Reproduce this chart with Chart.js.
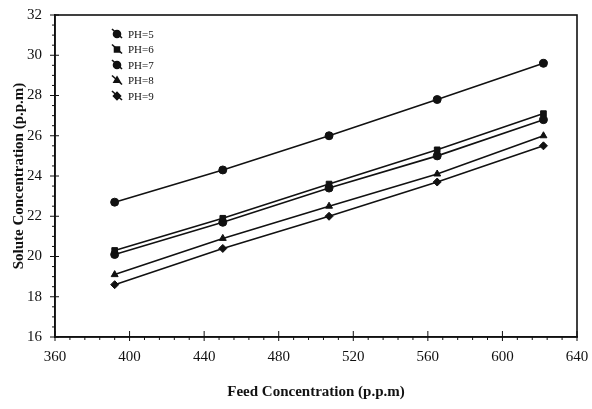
<!DOCTYPE html>
<html>
<head>
<meta charset="utf-8">
<script src="https://cdn.jsdelivr.net/npm/chart.js@4.4.1/dist/chart.umd.min.js"></script>
<style>
  html, body { margin: 0; padding: 0; background: #fff; }
  #wrap { width: 592px; height: 409px; }
</style>
</head>
<body>
<div id="wrap"><canvas id="chart" width="592" height="409"></canvas></div>
<script>
// feed concentration (p.p.m) on the x axis
var feed = [392, 450, 507, 565, 622];
// solute concentration (p.p.m) for each pH
var ph5 = [22.7, 24.3, 26.0, 27.8, 29.6];
var ph6 = [20.3, 21.9, 23.6, 25.3, 27.1];
var ph7 = [20.1, 21.7, 23.4, 25.0, 26.8];
var ph8 = [19.1, 20.9, 22.5, 24.1, 26.0];
var ph9 = [18.6, 20.4, 22.0, 23.7, 25.5];
var seriesNames = ['PH=5', 'PH=6', 'PH=7', 'PH=8', 'PH=9'];
var xTicks = [360, 400, 440, 480, 520, 560, 600, 640];
var yTicks = [16, 18, 20, 22, 24, 26, 28, 30, 32];

var serif = '"Liberation Serif", "DejaVu Serif", serif';
var styles = ['circle', 'rect', 'circle', 'triangle', 'rectRot'];

function pts(ys) {
    return feed.map(function(x, i) { return { x: x, y: ys[i] }; });
}

var allSeries = [ph5, ph6, ph7, ph8, ph9];
var datasets = allSeries.map(function(ys, i) {
    return {
        label: seriesNames[i],
        data: pts(ys),
        showLine: true,
        borderColor: '#111',
        backgroundColor: '#111',
        borderWidth: 1.6,
        pointStyle: styles[i],
        pointRadius: 4,
        pointBorderWidth: 1,
        tension: 0
    };
});

// frame, tick marks and legend drawn on top of the chart area
var framePlugin = {
    id: 'frame',
    afterDraw: function(chart) {
        var ctx = chart.ctx;
        var a = chart.chartArea;
        var xs = chart.scales.x, ys = chart.scales.y;
        ctx.save();
        ctx.strokeStyle = '#111';
        ctx.lineWidth = 1.6;
        ctx.strokeRect(a.left, a.top, a.right - a.left, a.bottom - a.top);

        ctx.lineWidth = 1;
        // x ticks: majors every 40, minors every 8
        for (var v = 360; v <= 640; v += 8) {
            var px = xs.getPixelForValue(v);
            var major = (v - 360) % 40 === 0;
            ctx.beginPath();
            if (major) { ctx.moveTo(px, a.bottom - 6); ctx.lineTo(px, a.bottom + 4); }
            else { ctx.moveTo(px, a.bottom); ctx.lineTo(px, a.bottom + 3); }
            ctx.stroke();
        }
        // y ticks: majors every 2, minors every 0.5
        for (var w = 16; w <= 32; w += 0.5) {
            var py = ys.getPixelForValue(w);
            var maj = w % 2 === 0;
            ctx.beginPath();
            if (maj) { ctx.moveTo(a.left - 5, py); ctx.lineTo(a.left + 4, py); }
            else { ctx.moveTo(a.left - 3, py); ctx.lineTo(a.left, py); }
            ctx.stroke();
        }

        // legend in top-left corner of the plot
        ctx.font = '11px ' + serif;
        ctx.fillStyle = '#111';
        ctx.textBaseline = 'middle';
        chart.data.datasets.forEach(function(ds, i) {
            var y = a.top + 19 + i * 15.5;
            var x = a.left + 62;
            ctx.beginPath();
            ctx.moveTo(x - 5, y - 5);
            ctx.lineTo(x + 5, y + 4);
            ctx.lineWidth = 1.6;
            ctx.stroke();
            Chart.helpers.drawPoint(ctx, { pointStyle: ds.pointStyle, radius: 3.5, rotation: 0, borderWidth: 1 }, x, y);
            ctx.fill();
            ctx.fillText(ds.label, x + 11, y + 1);
        });
        ctx.restore();
    }
};

new Chart(document.getElementById('chart'), {
    type: 'scatter',
    data: { datasets: datasets },
    options: {
        responsive: false,
        animation: false,
        layout: { padding: { top: 15, right: 15, left: 0, bottom: 0 } },
        plugins: {
            legend: { display: false },
            tooltip: { enabled: false }
        },
        scales: {
            x: {
                type: 'linear',
                min: 360,
                max: 640,
                afterBuildTicks: function(s) { s.ticks = xTicks.map(function(v) { return { value: v }; }); },
                afterFit: function(s) { s.height = 72; },
                grid: { display: false },
                border: { display: true, color: '#111', width: 1.6 },
                ticks: { color: '#111', font: { family: serif, size: 15 }, padding: 3, maxRotation: 0 },
                title: {
                    display: true,
                    text: 'Feed Concentration (p.p.m)',
                    color: '#111',
                    font: { family: serif, size: 15, weight: 'bold' },
                    padding: { top: 6, bottom: 8 }
                }
            },
            y: {
                min: 16,
                max: 32,
                afterBuildTicks: function(s) { s.ticks = yTicks.map(function(v) { return { value: v }; }); },
                afterFit: function(s) { s.width = 55; },
                grid: { display: false },
                border: { display: true, color: '#111', width: 1.6 },
                ticks: { color: '#111', font: { family: serif, size: 15 }, padding: 5 },
                title: {
                    display: true,
                    text: 'Solute Concentration (p.p.m)',
                    color: '#111',
                    font: { family: serif, size: 15, weight: 'bold' },
                    padding: { top: 10, bottom: 2 }
                }
            }
        }
    },
    plugins: [framePlugin]
});
</script>
</body>
</html>
